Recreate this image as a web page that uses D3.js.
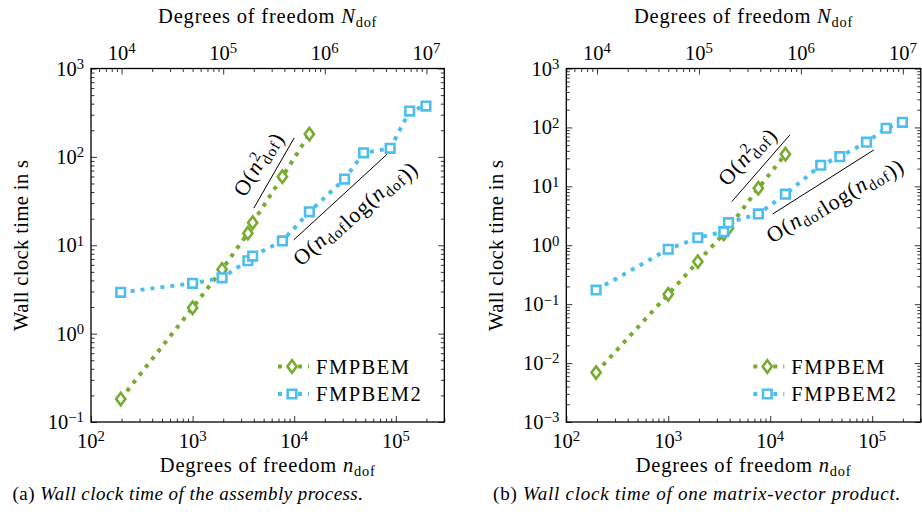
<!DOCTYPE html>
<html>
<head>
<meta charset="utf-8">
<script src="https://cdn.jsdelivr.net/npm/d3@7"></script>
<style>
  body { margin: 0; background: #fff; }
  svg { display: block; }
</style>
</head>
<body>
<svg id="fig" width="922" height="524"></svg>
<script>
// Degrees of freedom n_dof of the test meshes
const nDof = [196, 1000, 1950, 3500, 3900, 7650, 14100, 31300, 48200, 88000, 137000, 198000];

// (a) assembly wall clock time in s
const assemblyFMPBEM  = [0.182, 1.96, 5.33, 13.7, 18.0, 59.6, 181];
const assemblyFMPBEM2 = [2.93, 3.71, 4.28, 6.68, 7.55, 11.2, 23.9, 56.1, 111, 125, 330, 376];

// (b) one matrix-vector product, wall clock time in s
const matvecFMPBEM  = [0.0069, 0.147, 0.527, 1.56, 1.95, 9.3, 35.1];
const matvecFMPBEM2 = [0.174, 0.855, 1.34, 1.70, 2.42, 3.40, 7.35, 22.8, 31.9, 56.1, 96.8, 122];

// complexity guide lines, [n_dof, time] end points
const assemblyRefSq   = [[4000, 26.3], [10000, 164]];
const assemblyRefNlog = [[9900, 11.5], [82000, 107]];
const matvecRefSq     = [[4200, 5.5], [15600, 74.6]];
const matvecRefNlog   = [[10600, 3.4], [104000, 41.5]];

// N_dof = 50 n_dof on the top axis
const nToN = 50;

const seriesNames = ["FMPBEM", "FMPBEM2"];
const GREEN = "#77AC30", BLUE = "#4DBEEE";
const FS = 20.5;
const FONT = "'Liberation Serif', 'DejaVu Serif', serif";

const svg = d3.select("#fig").attr("font-family", FONT).style("font-family", FONT);

const isPow10 = v => Math.abs(Math.log10(v) - Math.round(Math.log10(v))) < 1e-9;

function txt(parent, size) {
  return parent.append("text").attr("font-family", FONT).style("font-family", FONT)
    .attr("fill", "#000").style("font-size", size + "px");
}

// "10^k" label with a raised exponent
function powLabel(sel, v) {
  const k = Math.round(Math.log10(v));
  sel.append("tspan").text("10");
  sel.append("tspan").attr("dy", "-0.45em").style("font-size", "0.72em")
     .text(k < 0 ? "\u2212" + (-k) : String(k));
}

// italic symbol with a "dof" subscript (and optional stacked superscript)
function dofSymbol(sel, sym, sup) {
  sel.append("tspan").style("font-style", "italic").text(sym);
  if (sup) {
    sel.append("tspan").attr("dy", "-0.48em").style("font-size", "0.7em").text(sup);
    sel.append("tspan").attr("dx", "-0.36em").attr("dy", "0.78em").style("font-size", "0.7em").text("dof");
    sel.append("tspan").attr("dy", "-0.3em").text("");
  } else {
    sel.append("tspan").attr("dy", "0.3em").style("font-size", "0.7em").text("dof");
    sel.append("tspan").attr("dy", "-0.3em").text("");
  }
}

function markerPath(kind) {
  return kind === "diamond"
    ? "M0,-6.2L4.6,0L0,6.2L-4.6,0Z"
    : "M-4.3,-4.3H4.3V4.3H-4.3Z";
}

function panel(cfg) {
  const { x0, y0, w, h } = cfg;
  const g = svg.append("g");

  const x = d3.scaleLog().domain([100, 3e5]).range([x0, x0 + w]);
  const xTop = d3.scaleLog().domain([100 * nToN, 3e5 * nToN]).range([x0, x0 + w]);
  const y = d3.scaleLog().domain(cfg.yDomain).range([y0 + h, y0]);

  const split = s => {
    const t = s.ticks();
    return [t.filter(isPow10), t.filter(v => !isPow10(v))];
  };
  const [xMaj, xMin] = split(x);
  const [tMaj, tMin] = split(xTop);
  const [yMaj, yMin] = split(y);
  const MAJ = 6, MIN = 3.5;

  const axes = g.append("g").attr("class", "axes");
  const put = (axis, tf) => {
    const a = axes.append("g").attr("transform", tf).call(axis);
    a.select(".domain").remove();
    a.selectAll("line").attr("stroke", "#000").attr("stroke-width", 0.8);
    a.selectAll("text").remove();
  };
  put(d3.axisBottom(x).tickValues(xMaj).tickSize(-MAJ), `translate(0,${y0 + h})`);
  put(d3.axisBottom(x).tickValues(xMin).tickSize(-MIN), `translate(0,${y0 + h})`);
  put(d3.axisTop(xTop).tickValues(tMaj).tickSize(-MAJ), `translate(0,${y0})`);
  put(d3.axisTop(xTop).tickValues(tMin).tickSize(-MIN), `translate(0,${y0})`);
  put(d3.axisLeft(y).tickValues(yMaj).tickSize(-MAJ), `translate(${x0},0)`);
  put(d3.axisLeft(y).tickValues(yMin).tickSize(-MIN), `translate(${x0},0)`);
  put(d3.axisRight(y).tickValues(yMaj).tickSize(-MAJ), `translate(${x0 + w},0)`);
  put(d3.axisRight(y).tickValues(yMin).tickSize(-MIN), `translate(${x0 + w},0)`);

  // tick labels
  xMaj.forEach(v => {
    powLabel(txt(g, FS).attr("x", x(v)).attr("y", y0 + h + 25.5).attr("text-anchor", "middle"), v);
  });
  tMaj.forEach(v => {
    powLabel(txt(g, FS).attr("x", xTop(v)).attr("y", y0 - 8.5).attr("text-anchor", "middle"), v);
  });
  yMaj.forEach(v => {
    powLabel(txt(g, FS).attr("x", x0 - 7).attr("y", y(v) + 7).attr("text-anchor", "end"), v);
  });

  // axis titles
  const tb = txt(g, FS).attr("x", x0 + w / 2).attr("y", y0 + h + 50)
    .attr("text-anchor", "middle").style("letter-spacing", "0.8px");
  tb.append("tspan").text("Degrees of freedom ");
  dofSymbol(tb, "n");
  const tt = txt(g, FS).attr("x", x0 + w / 2).attr("y", 23)
    .attr("text-anchor", "middle").style("letter-spacing", "0.8px");
  tt.append("tspan").text("Degrees of freedom ");
  dofSymbol(tt, "N");
  txt(g, FS).attr("transform", `translate(${x0 - 63},${y0 + h / 2}) rotate(-90)`)
    .attr("text-anchor", "middle").style("letter-spacing", "0.4px")
    .text("Wall clock time in s");

  // complexity guide lines with rotated labels
  function guide(pts, side, build) {
    const p0 = [x(pts[0][0]), y(pts[0][1])], p1 = [x(pts[1][0]), y(pts[1][1])];
    g.append("line").attr("x1", p0[0]).attr("y1", p0[1]).attr("x2", p1[0]).attr("y2", p1[1])
      .attr("stroke", "#000").attr("stroke-width", 1);
    const ang = Math.atan2(p1[1] - p0[1], p1[0] - p0[0]) * 180 / Math.PI;
    const mx = (p0[0] + p1[0]) / 2, my = (p0[1] + p1[1]) / 2;
    const t = txt(g, 22).attr("transform", `translate(${mx},${my}) rotate(${ang})`)
      .attr("y", side === "above" ? -12.5 : 25).attr("text-anchor", "middle")
      .style("letter-spacing", "1px");
    build(t);
  }
  guide(cfg.refSq, "above", t => {
    t.append("tspan").text("O(");
    dofSymbol(t, "n", "2");
    t.append("tspan").text(")");
  });
  guide(cfg.refNlog, "below", t => {
    t.append("tspan").text("O(");
    dofSymbol(t, "n");
    t.append("tspan").text("log(");
    dofSymbol(t, "n");
    t.append("tspan").text("))");
  });

  // data series
  const series = [
    { name: seriesNames[0], vals: cfg.a, color: GREEN, mark: "diamond" },
    { name: seriesNames[1], vals: cfg.b, color: BLUE, mark: "square" }
  ];
  const line = d3.line().x(d => x(d[0])).y(d => y(d[1]));
  series.forEach(s => {
    const pts = s.vals.map((v, i) => [nDof[i], v]);
    g.append("path").datum(pts).attr("d", line).attr("fill", "none")
      .attr("stroke", s.color).attr("stroke-width", 4).attr("stroke-dasharray", "4,6");
    g.selectAll(null).data(pts).join("path")
      .attr("d", markerPath(s.mark))
      .attr("transform", d => `translate(${x(d[0])},${y(d[1])})`)
      .attr("fill", "#fff").attr("stroke", s.color).attr("stroke-width", 2.6);
  });

  // legend
  const lx = x0 + 187, ly = y0 + 298;
  series.forEach((s, i) => {
    const yy = ly + i * 27.5;
    g.append("line").attr("x1", lx).attr("x2", lx + 31).attr("y1", yy).attr("y2", yy)
      .attr("stroke", s.color).attr("stroke-width", 4).attr("stroke-dasharray", "4,6");
    g.append("path").attr("d", markerPath(s.mark)).attr("transform", `translate(${lx + 14},${yy})`)
      .attr("fill", "#fff").attr("stroke", s.color).attr("stroke-width", 2.6);
    txt(g, FS).attr("x", lx + 38).attr("y", yy + 7.3).style("letter-spacing", "1.5px").text(s.name);
  });

  // frame
  g.append("rect").attr("x", x0).attr("y", y0).attr("width", w).attr("height", h)
    .attr("fill", "none").attr("stroke", "#000").attr("stroke-width", 1.3);

  // sub-caption
  const c = txt(g, 19).attr("x", cfg.capX).attr("y", 500).attr("text-anchor", "middle")
    .style("letter-spacing", cfg.capSpacing);
  c.append("tspan").text(cfg.capLabel + " ");
  c.append("tspan").style("font-style", "italic").text(cfg.caption);
}

panel({
  x0: 91, y0: 68.5, w: 353.3, h: 353.5, yDomain: [0.1, 1000],
  a: assemblyFMPBEM, b: assemblyFMPBEM2,
  refSq: assemblyRefSq, refNlog: assemblyRefNlog,
  capX: 188, capSpacing: "0.45px", capLabel: "(a)", caption: "Wall clock time of the assembly process."
});
panel({
  x0: 566.3, y0: 68.5, w: 354.5, h: 353.5, yDomain: [0.001, 1000],
  a: matvecFMPBEM, b: matvecFMPBEM2,
  refSq: matvecRefSq, refNlog: matvecRefNlog,
  capX: 697, capSpacing: "0.75px", capLabel: "(b)", caption: "Wall clock time of one matrix-vector product."
});
</script>
</body>
</html>
